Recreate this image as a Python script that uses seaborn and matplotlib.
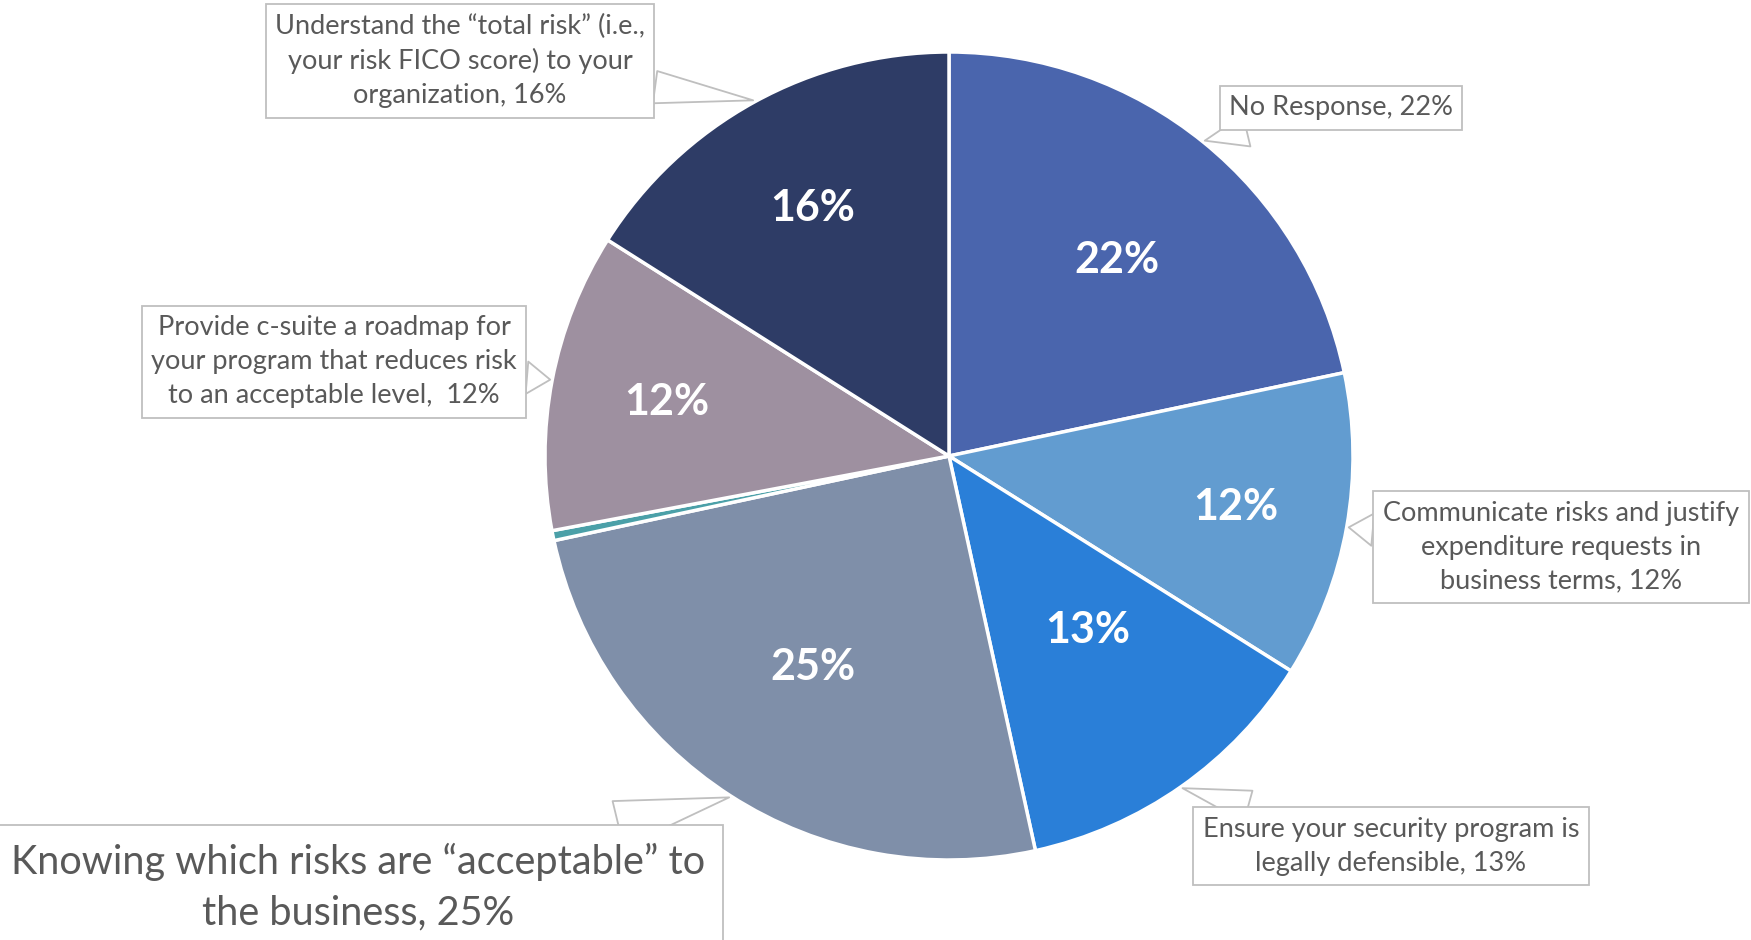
import matplotlib.pyplot as plt
import seaborn as sns
import numpy as np

# slices clockwise from 12 o'clock
categories = ["No Response",
              "Communicate risks and justify\nexpenditure requests in\nbusiness terms",
              "Ensure your security program is\nlegally defensible",
              "Knowing which risks are \u201cacceptable\u201d to\nthe business",
              "Other",
              "Provide c-suite a roadmap for\nyour program that reduces risk\nto an acceptable level, ",
              "Understand the \u201ctotal risk\u201d (i.e.,\nyour risk FICO score) to your\norganization"]
shares = [21.8, 12.3, 12.7, 25.2, 0.4, 12.0, 16.1]
callout_pct = ["22%", "12%", "13%", "25%", "", "12%", "16%"]
slice_colors = ["#4A65AD", "#629CD0", "#2A7FD8", "#7F8FA9", "#4BA0A8", "#9E90A0", "#2E3C66"]

sns.set_theme(style="white")
plt.rcParams["font.family"] = ["Lato", "DejaVu Sans"]

fig = plt.figure(figsize=(17.51, 9.40), dpi=100)
ax = fig.add_axes([0, 0, 1, 1])

cx, cy, rad = 949, 484, 404
wedges, _, pct_texts = ax.pie(shares,
                              colors=sns.color_palette(slice_colors),
                              startangle=90,
                              counterclock=False,
                              center=(cx, cy),
                              radius=rad,
                              autopct=lambda p: f"{p:.0f}%" if p >= 1 else "",
                              pctdistance=0.65,
                              wedgeprops=dict(edgecolor="white", linewidth=2.5),
                              textprops=dict(color="white", fontsize=31, fontweight="bold"))
ax.set_xlim(0, 1751)
ax.set_ylim(0, 940)
ax.set_aspect("equal")
ax.axis("off")

# nudge the inside labels like the original
pct_dist = [0.64, 0.72, 0.55, 0.62, 0.6, 0.71, 0.70]
pct_turn = [-1.5, 0, 3.5, 0, 0, 0, 0]
for w, t, d, a in zip(wedges, pct_texts, pct_dist, pct_turn):
    mid = np.deg2rad((w.theta1 + w.theta2) / 2 + a)
    t.set_position((cx + rad * d * np.cos(mid), cy + rad * d * np.sin(mid)))

# callout boxes (text centre in pixels, font size, padding)
box_xy = [(1341, 832), (1561, 393), (1391, 94), (358, 53), None, (334, 578), (460, 879)]
box_size = [19.5, 19.5, 19.5, 28.5, 0, 19.5, 19.5]
box_pad = [0.35, 0.35, 0.35, 0.45, 0, 0.35, 0.35]

for i, w in enumerate(wedges):
    if box_xy[i] is None:
        continue
    mid = np.deg2rad((w.theta1 + w.theta2) / 2)
    tip = (cx + rad * 1.005 * np.cos(mid), cy + rad * 1.005 * np.sin(mid))
    label = categories[i] + (" " if categories[i].endswith(" ") else ", ") + callout_pct[i]
    ax.annotate(label, xy=tip, xytext=box_xy[i],
                ha="center", va="center", fontsize=box_size[i],
                color="#595959", linespacing=1.45,
                bbox=dict(boxstyle=f"square,pad={box_pad[i]}", fc="white", ec="#BFBFBF", lw=1.3),
                arrowprops=dict(arrowstyle="wedge,tail_width=1.2", fc="white",
                                ec="#BFBFBF", lw=1.3, shrinkA=0, shrinkB=0))

fig.savefig("out.png", dpi=100)
